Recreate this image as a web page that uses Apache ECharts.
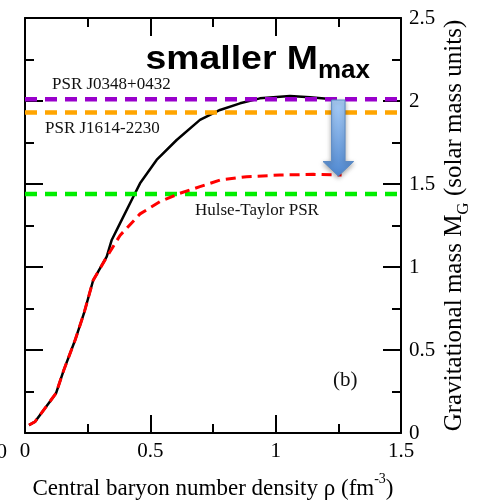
<!DOCTYPE html>
<html>
<head>
<meta charset="utf-8">
<script src="https://cdn.jsdelivr.net/npm/echarts@6/dist/echarts.min.js"></script>
<style>
  html, body { margin: 0; padding: 0; background: #fff; }
  #chart { width: 485px; height: 504px; }
</style>
</head>
<body>
<div id="chart"></div>
<script>
// stiff EOS (black solid)
const rhoStiff = [0.016, 0.04, 0.124, 0.155, 0.2, 0.235, 0.272, 0.326, 0.346, 0.379, 0.432, 0.459, 0.525, 0.605, 0.698, 0.778, 0.858, 0.937, 1.057, 1.137, 1.229];
const massStiff = [0.048, 0.068, 0.24, 0.38, 0.56, 0.72, 0.92, 1.062, 1.163, 1.263, 1.423, 1.504, 1.645, 1.765, 1.886, 1.946, 1.986, 2.016, 2.03, 2.022, 2.01];
// softened EOS (red dashed)
const rhoSoft = [0.016, 0.04, 0.124, 0.155, 0.2, 0.235, 0.272, 0.326, 0.379, 0.459, 0.538, 0.618, 0.698, 0.778, 0.884, 1.017, 1.15, 1.263];
const massSoft = [0.048, 0.068, 0.24, 0.38, 0.56, 0.72, 0.92, 1.06, 1.19, 1.32, 1.393, 1.444, 1.484, 1.524, 1.544, 1.554, 1.558, 1.554];

const pulsarNames = ['PSR J0348+0432', 'PSR J1614-2230', 'Hulse-Taylor PSR'];
const pulsarMasses = [2.01, 1.93, 1.44];
const pulsarColors = ['#9900cc', '#ffa500', '#00ee00'];

// arrow: [rho, from mass, to mass]
const arrowData = [[1.25, 2.006, 1.548]];

const serif = 'Liberation Serif';
const chart = echarts.init(document.getElementById('chart'));

const axisCommon = {
  type: 'value',
  axisLine: { show: true, onZero: false, lineStyle: { color: '#000', width: 2 } },
  axisTick: { show: true, inside: true, length: 18, lineStyle: { color: '#000', width: 2 } },
  minorTick: { show: true, splitNumber: 2, length: 9, lineStyle: { color: '#000', width: 2 } },
  splitLine: { show: false },
  minorSplitLine: { show: false }
};

const pulsarSeries = pulsarMasses.map((m, i) => ({
  type: 'line',
  name: pulsarNames[i],
  data: [[0, m], [1.5, m]],
  symbol: 'none',
  lineStyle: { color: pulsarColors[i], width: 4.5, type: [12, 8] },
  z: 3
}));

chart.setOption({
  animation: false,
  textStyle: { fontFamily: serif },
  grid: { left: 25, right: 84, top: 18, bottom: 71, outerBoundsMode: 'none' },
  xAxis: [
    Object.assign({}, axisCommon, {
      min: 0, max: 1.5, interval: 0.5, position: 'bottom',
      axisLabel: { color: '#000', fontSize: 21, fontFamily: serif, margin: 8 },
      name: 'Central baryon number density ρ (fm{sup|-3})',
      nameLocation: 'middle',
      nameGap: 39,
      nameMoveOverlap: false,
      nameTextStyle: {
        color: '#000', fontSize: 23, fontFamily: serif, lineHeight: 34,
        rich: { sup: { fontSize: 14, fontFamily: serif, color: '#000', lineHeight: 14, verticalAlign: 'top' } }
      }
    }),
    Object.assign({}, axisCommon, {
      min: 0, max: 1.5, interval: 0.5, position: 'top',
      axisLabel: { show: false }
    })
  ],
  yAxis: [
    Object.assign({}, axisCommon, {
      min: 0, max: 2.5, interval: 0.5, position: 'right',
      axisLabel: { color: '#000', fontSize: 21, fontFamily: serif, margin: 8 },
      name: 'Gravitational mass M{sub|G} (solar mass units)',
      nameLocation: 'middle',
      nameRotate: 90,
      nameGap: 36,
      nameMoveOverlap: false,
      nameTextStyle: {
        color: '#000', fontSize: 25, fontFamily: serif, lineHeight: 35,
        rich: { sub: { fontSize: 17, fontFamily: serif, color: '#000', lineHeight: 17, verticalAlign: 'bottom' } }
      }
    }),
    Object.assign({}, axisCommon, {
      min: 0, max: 2.5, interval: 0.5, position: 'left',
      axisLabel: { show: false }
    })
  ],
  graphic: [
    { type: 'text', x: 52, y: 85, style: { text: pulsarNames[0], font: '17px "Liberation Serif"', fill: '#111', verticalAlign: 'middle' } },
    { type: 'text', x: 45, y: 129, style: { text: pulsarNames[1], font: '17px "Liberation Serif"', fill: '#111', verticalAlign: 'middle' } },
    { type: 'text', x: 195, y: 211, style: { text: pulsarNames[2], font: '17px "Liberation Serif"', fill: '#111', verticalAlign: 'middle' } },
    { type: 'text', x: 333, y: 380, style: { text: '(b)', font: '21px "Liberation Serif"', fill: '#111', verticalAlign: 'middle' } },
    { type: 'text', x: 318, y: 60, scaleX: 1.1, style: { text: 'smaller M', font: 'bold 34px "Liberation Sans"', fill: '#000', align: 'right', verticalAlign: 'middle' } },
    { type: 'text', x: 318, y: 71, style: { text: 'max', font: 'bold 26px "Liberation Sans"', fill: '#000', align: 'left', verticalAlign: 'middle' } },
    { type: 'text', x: 7, y: 452, style: { text: '0', font: '21px "Liberation Serif"', fill: '#000', align: 'right', verticalAlign: 'middle' } }
  ],
  series: [
    {
      type: 'line',
      name: 'stiff',
      data: rhoStiff.map((r, i) => [r, massStiff[i]]),
      symbol: 'none',
      lineStyle: { color: '#000', width: 2.5 },
      z: 2
    },
    ...pulsarSeries,
    {
      type: 'line',
      name: 'soft',
      data: rhoSoft.map((r, i) => [r, massSoft[i]]),
      symbol: 'none',
      lineStyle: { color: '#ff0000', width: 3, type: [10, 6] },
      z: 4
    },
    {
      type: 'custom',
      name: 'arrow',
      data: arrowData,
      encode: { x: 0, y: [1, 2] },
      z: 10,
      renderItem: function (params, api) {
        const top = api.coord([api.value(0), api.value(1)]);
        const tip = api.coord([api.value(0), api.value(2)]);
        const cx = top[0];
        const shaftW = 6.7, headW = 15.3, headH = 14.5;
        const baseY = tip[1] - headH;
        return {
          type: 'polygon',
          shape: {
            points: [
              [cx - shaftW, top[1]], [cx + shaftW, top[1]], [cx + shaftW, baseY],
              [cx + headW, baseY], [cx, tip[1]], [cx - headW, baseY], [cx - shaftW, baseY]
            ]
          },
          style: {
            fill: new echarts.graphic.LinearGradient(0, 0, 0, 1, [
              { offset: 0, color: '#a9cdf7' },
              { offset: 1, color: '#4f88d0' }
            ]),
            stroke: '#5a8ac4',
            lineWidth: 1,
            shadowBlur: 5,
            shadowColor: 'rgba(0,0,0,0.35)',
            shadowOffsetY: 2
          }
        };
      }
    }
  ]
});
</script>
</body>
</html>
